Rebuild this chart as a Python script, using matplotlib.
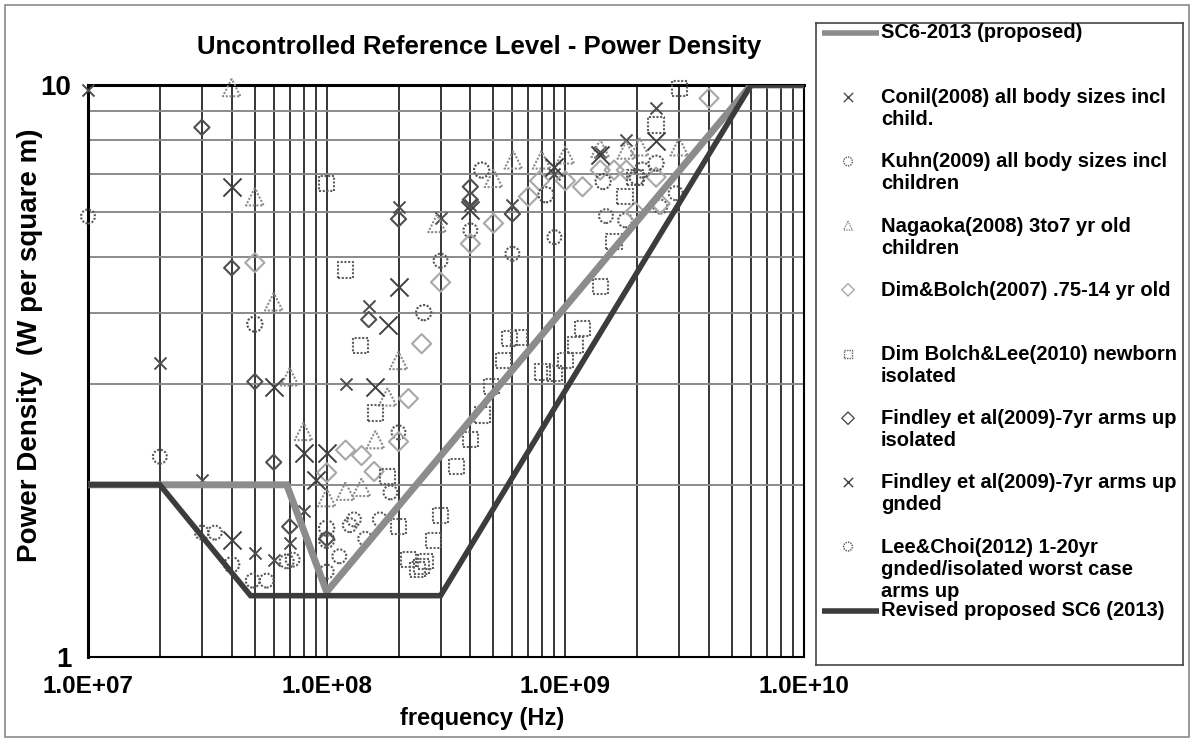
import matplotlib
matplotlib.use("Agg")
import matplotlib.pyplot as plt
from matplotlib.patches import Rectangle
from matplotlib.ticker import FixedLocator, NullFormatter

plt.rcParams["font.family"] = ["Liberation Sans", "DejaVu Sans"]
plt.rcParams["font.weight"] = "bold"

# -------- limit curves --------
sc6_f = [1e7, 6.8e7, 1e8, 6e9, 1e10]
sc6_p = [2.0, 2.0, 1.3, 10.0, 10.0]
rev_f = [1e7, 2e7, 4.8e7, 3e8, 6e9, 1e10]
rev_p = [2.0, 2.0, 1.28, 1.28, 10.0, 10.0]

# -------- measured / simulated data (Hz, W/m^2) --------
conil_f = [1e7, 2e7, 3e7, 5e7, 6e7, 7e7, 8e7, 1.2e8, 1.5e8, 2e8, 3e8, 4e8, 6e8,
           9e8, 1.4e9, 1.8e9, 2.4e9]
conil_p = [9.8, 3.26, 2.04, 1.52, 1.48, 1.58, 1.8, 3.0, 4.1, 6.13, 5.85, 6.17, 6.17,
           7.0, 7.65, 8.0, 9.1]

kuhn_f = [1e7, 2e7, 3e7, 3.4e7, 4.9e7, 5.6e7, 6.8e7, 7.2e7, 1e8, 1.13e8, 1.25e8,
          1.3e8, 1.45e8, 1.67e8, 1.85e8, 2e8, 3e8, 4e8, 6e8, 9e8, 1.48e9, 1.78e9,
          2.5e9, 2.9e9]
kuhn_p = [5.89, 2.24, 1.65, 1.65, 1.36, 1.36, 1.47, 1.48, 1.41, 1.5, 1.7,
          1.74, 1.61, 1.74, 1.94, 2.47, 4.93, 5.57, 5.07, 5.42, 5.9, 5.8,
          6.13, 6.47]

nagaoka_f = [4e7, 5e7, 6e7, 7e7, 8e7, 1e8, 1.2e8, 1.4e8, 1.6e8, 1.8e8, 2e8, 2.9e8,
             5e8, 6.05e8, 7.95e8, 1e9, 1.4e9, 1.8e9, 2.05e9, 3e9]
nagaoka_p = [9.9, 6.38, 4.18, 3.09, 2.48, 1.9, 1.95, 1.98, 2.4, 2.85, 3.3, 5.73,
             6.87, 7.4, 7.4, 7.55, 7.75, 7.7, 7.8, 7.8]

dimbolch_f = [5e7, 1e8, 1.2e8, 1.4e8, 1.58e8, 2e8, 2.2e8, 2.5e8, 3e8, 4e8, 5e8, 7e8,
              7.8e8, 1e9, 1.18e9, 1.4e9, 1.6e9, 1.8e9, 1.96e9, 2.4e9, 2.5e9, 4e9]
dimbolch_p = [4.89, 2.1, 2.3, 2.25, 2.11, 2.38, 2.83, 3.53, 4.52, 5.28, 5.73, 6.38,
              6.8, 6.8, 6.64, 7.1, 7.1, 7.1, 6.0, 6.9, 6.2, 9.48]

dbl_f = [1e8, 1.2e8, 1.39e8, 1.6e8, 1.8e8, 2e8, 2.2e8, 2.4e8, 2.5e8, 2.6e8, 2.8e8,
         3e8, 3.5e8, 4e8, 4.5e8, 4.9e8, 5.5e8, 5.85e8, 6.4e8, 8e8, 9e8, 1e9, 1.1e9,
         1.18e9, 1.4e9, 1.6e9, 1.78e9, 1.96e9, 2.4e9, 3e9]
dbl_p = [6.73, 4.75, 3.5, 2.67, 2.07, 1.69, 1.48, 1.42, 1.44, 1.47, 1.6,
         1.77, 2.15, 2.4, 2.65, 2.97, 3.3, 3.6, 3.62, 3.15, 3.13, 3.3, 3.51,
         3.75, 4.44, 5.32, 6.38, 6.9, 8.51, 9.87]

findley_i_f = [3e7, 4e7, 5e7, 6e7, 7e7, 1e8, 1.5e8, 2e8, 4e8, 4e8, 6e8]
findley_i_p = [8.43, 4.79, 3.03, 2.19, 1.69, 1.61, 3.89, 5.83, 6.64, 6.3, 5.95]

findley_g_f = [4e7, 4e7, 6e7, 8e7, 9e7, 1e8, 1.6e8, 1.8e8, 2e8, 4e8, 9e8, 1.4e9, 2.4e9]
findley_g_p = [6.64, 1.6, 2.97, 2.27, 2.04, 2.27, 2.96, 3.8, 4.43, 6.05, 7.2, 7.55, 7.98]

lee_f = [4e7, 5e7, 1e8, 1e8, 2.55e8, 4.46e8, 8.3e8, 1.44e9, 2e9, 2.1e9, 2.4e9]
lee_p = [1.45, 3.82, 1.68, 1.6, 4.0, 7.1, 6.43, 6.78, 6.9, 7.1, 7.3]

x_ticks = [1e7, 1e8, 1e9, 1e10]
x_labels = ["1.0E+07", "1.0E+08", "1.0E+09", "1.0E+10"]
y_ticks = [1, 10]
y_labels = ["1", "10"]

dots = (0, (1, 0.8))

# marker styles: (f, p, label, marker, size, edge colour, line style)
series = [
    (conil_f, conil_p, "Conil(2008) all body sizes incl\nchild.", "x", 75, "#4d4d4d", "-"),
    (kuhn_f, kuhn_p, "Kuhn(2009) all body sizes incl\nchildren", "o", 100, "#5a5a5a", dots),
    (nagaoka_f, nagaoka_p, "Nagaoka(2008) 3to7 yr old\nchildren", "^", 160, "#8c8c8c", dots),
    (dimbolch_f, dimbolch_p, "Dim&Bolch(2007) .75-14 yr old", "D", 95, "#a8a8a8", "-"),
    (dbl_f, dbl_p, "Dim Bolch&Lee(2010) newborn\nisolated", "s", 120, "#5e5e5e", dots),
    (findley_i_f, findley_i_p, "Findley et al(2009)-7yr arms up\nisolated", "D", 60, "#505050", "-"),
    (findley_g_f, findley_g_p, "Findley et al(2009)-7yr arms up\ngnded", "x", 170, "#404040", "-"),
    (lee_f, lee_p, "Lee&Choi(2012) 1-20yr\ngnded/isolated worst case\narms up", "o", 120, "#505050", dots),
]

fig = plt.figure(figsize=(11.9, 7.38), dpi=100)
W, H = 1190, 738

ax = fig.add_axes([88 / W, 1 - 657 / H, (804 - 88) / W, (657 - 85) / H])
ax.set_xscale("log")
ax.set_yscale("log")
ax.set_xlim(1e7, 1e10)
ax.set_ylim(1, 10)

# grid: dark verticals, grey horizontals
ax.xaxis.set_minor_locator(FixedLocator([m * 10 ** e for e in range(7, 10) for m in range(2, 10)]))
ax.yaxis.set_minor_locator(FixedLocator(list(range(2, 10))))
ax.xaxis.set_minor_formatter(NullFormatter())
ax.yaxis.set_minor_formatter(NullFormatter())
ax.grid(True, axis="x", which="both", color="#141414", lw=1.2)
ax.grid(True, axis="y", which="both", color="#8a8a8a", lw=1.4)
ax.set_axisbelow(True)

for f, p, lab, mk, s, col, ls in series:
    if mk == "x":
        ax.scatter(f, p, marker=mk, s=s, c=col, linewidths=1.4, clip_on=False, zorder=3)
    else:
        ax.scatter(f, p, marker=mk, s=s, facecolors="none", edgecolors=col,
                   linewidths=1.5, linestyle=ls, clip_on=False, zorder=3)

ax.plot(sc6_f, sc6_p, color="#8c8c8c", lw=5, solid_joinstyle="miter", zorder=4)
ax.plot(rev_f, rev_p, color="#3c3c3c", lw=4, solid_joinstyle="miter", zorder=4)

ax.set_xticks(x_ticks)
ax.set_xticklabels(x_labels)
ax.set_yticks(y_ticks)
ax.set_yticklabels(y_labels)
ax.tick_params(axis="both", which="both", length=0)
ax.tick_params(axis="x", pad=13, labelsize=17.5)
ax.tick_params(axis="y", pad=12, labelsize=20)
for sp in ["left", "top"]:
    ax.spines[sp].set_linewidth(2.2)
for sp in ["right", "bottom"]:
    ax.spines[sp].set_linewidth(1.5)

fig.text(479 / W, 1 - 47 / H, "Uncontrolled Reference Level - Power Density",
         ha="center", va="center", fontsize=18.5, fontweight="bold")
fig.text(30 / W, 1 - 345 / H, "Power Density  (W per square m)", rotation=90,
         ha="center", va="center", fontsize=20, fontweight="bold")
fig.text(482 / W, 1 - 718 / H, "frequency (Hz)", ha="center", va="center",
         fontsize=17, fontweight="bold")

# outer frame
fig.patches.append(Rectangle((5 / W, 1 / H), (W - 6) / W, (H - 6) / H,
                             transform=fig.transFigure, fill=False,
                             edgecolor="#8a8a8a", lw=1.2))

# legend panel, laid out in pixel units
lg = fig.add_axes([816 / W, 1 - 665 / H, (1183 - 816) / W, (665 - 23) / H])
lg.set_xlim(816, 1183)
lg.set_ylim(665, 23)
lg.set_xticks([])
lg.set_yticks([])
for sp in lg.spines.values():
    sp.set_color("#444444")
    sp.set_linewidth(1.2)

text_x = 881
key_x = 848
rows = [33 + 64.2 * i for i in range(10)]
lg.plot([822, 879], [rows[0], rows[0]], color="#8c8c8c", lw=4, solid_capstyle="butt")
lg.text(text_x, rows[0], "SC6-2013 (proposed)", va="center", ha="left", fontsize=14.5)
for (f, p, lab, mk, s, col, ls), y in zip(series, rows[1:9]):
    if mk == "x":
        lg.scatter([key_x], [y], marker=mk, s=45, c=col, linewidths=1.0)
    else:
        lg.scatter([key_x], [y], marker=mk, s=40, facecolors="none", edgecolors=col,
                   linewidths=1.0, linestyle=ls)
    lg.text(text_x, y - 9, lab, va="top", ha="left", fontsize=14.5, linespacing=1.2)
lg.plot([822, 879], [rows[9], rows[9]], color="#3c3c3c", lw=4, solid_capstyle="butt")
lg.text(text_x, rows[9], "Revised proposed SC6 (2013)", va="center", ha="left", fontsize=14.5)

fig.savefig("out.png", dpi=100)
